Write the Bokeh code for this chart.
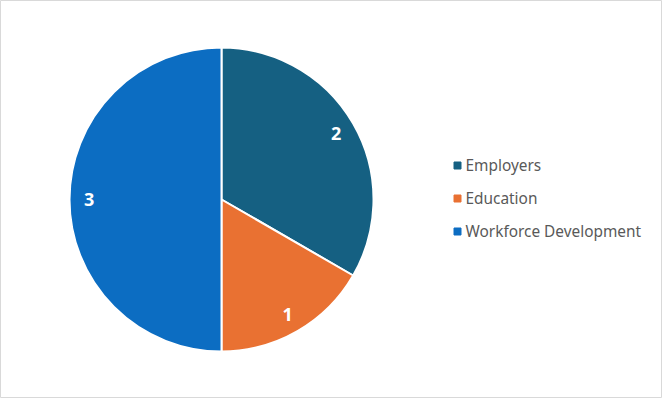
import math
from bokeh.plotting import figure
from bokeh.models import Range1d, ColumnDataSource
from bokeh.core.properties import value
from bokeh.embed import file_html
from bokeh.resources import INLINE

categories = ["Employers", "Education", "Workforce Development"]
counts = [2, 1, 3]
colors = ["#156082", "#E97132", "#0C6DC2"]

W, H = 662, 398
cx, cy, r = 221, 199, 152

total = sum(counts)
starts, ends, lx, ly = [], [], [], []
a = math.pi / 2
for c in counts:
    span = 2 * math.pi * c / total
    s, e = a, a - span
    starts.append(s)
    ends.append(e)
    mid = (s + e) / 2
    lx.append(cx + 0.87 * r * math.cos(mid))
    ly.append(cy + 0.87 * r * math.sin(mid))
    a = e

src = ColumnDataSource(dict(start=starts, end=ends, color=colors,
                            lx=lx, ly=ly, label=[str(c) for c in counts]))

p = figure(width=W, height=H, output_backend="svg", toolbar_location=None,
           x_range=Range1d(0, W), y_range=Range1d(0, H), min_border=0)
p.axis.visible = False
p.grid.visible = False
p.outline_line_color = "#D9D9D9"
p.outline_line_width = 1
p.background_fill_color = "white"

p.wedge(x=cx, y=cy, radius=r, start_angle="start", end_angle="end",
        direction="clock", fill_color="color", line_color="white",
        line_width=2, source=src)
p.text(x="lx", y="ly", text="label", source=src, text_color="white",
       text_font=value("Noto Sans"), text_font_style="bold",
       text_font_size="18px", text_align="center", text_baseline="middle")

leg_y = [H - 165, H - 198, H - 231]
p.scatter(x=[457] * 3, y=leg_y, marker="square", size=7, color=colors)
p.text(x=[465] * 3, y=leg_y, text=categories, text_color="#595959",
       text_font=value("Noto Sans"), text_font_size="15.4px",
       text_baseline="middle", text_align="left")

open("out.html", "w").write(file_html(p, INLINE))
